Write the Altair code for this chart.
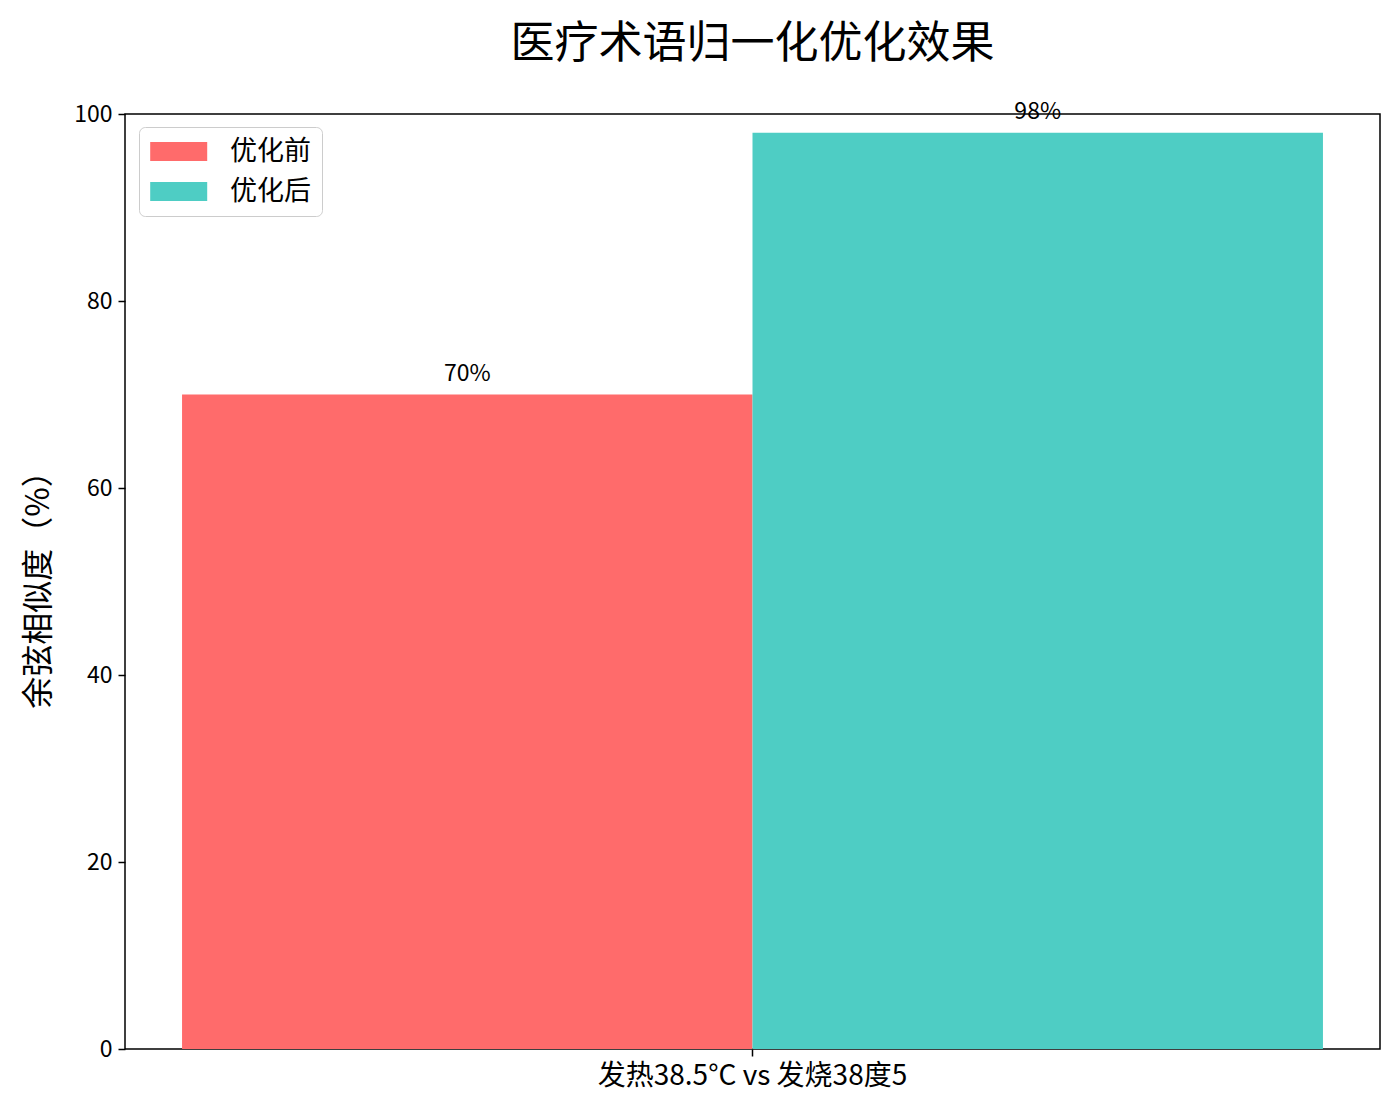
import altair as alt
import pandas as pd

pair = "发热38.5°C vs 发烧38度5"
groups = ["优化前", "优化后"]
similarity = [70, 98]
colors = ["#FF6B6B", "#4ECDC4"]
y_ticks = [0, 20, 40, 60, 80, 100]

df = pd.DataFrame({"pair": [pair] * len(groups), "group": groups, "value": similarity})
df["label"] = [f"{v}%" for v in similarity]

FONT = "Noto Sans CJK SC"

x = alt.X(
    "pair:N",
    title=None,
    scale=alt.Scale(paddingInner=0, paddingOuter=0.05),
    axis=alt.Axis(
        labelAngle=0, labelFontSize=28, labelFont=FONT, labelColor="black",
        labelLimit=0,
        tickSize=7, tickColor="black", tickWidth=1.5,
        domain=False, labelPadding=6,
    ),
)
xoff = alt.XOffset("group:N", sort=groups, scale=alt.Scale(paddingInner=0, paddingOuter=0))
y = alt.Y(
    "value:Q",
    scale=alt.Scale(domain=[0, 100], nice=False),
    axis=alt.Axis(
        values=y_ticks, title="余弦相似度（%）", grid=False,
        labelFontSize=23, labelFont=FONT, labelColor="black",
        tickSize=7, tickColor="black", tickWidth=1.5, domain=False,
        titleFontSize=32, titleFont=FONT, titleFontWeight="normal",
        titleColor="black", titlePadding=18, labelPadding=6,
    ),
)

color = alt.Color(
    "group:N",
    sort=groups,
    scale=alt.Scale(domain=groups, range=colors),
    legend=alt.Legend(
        title=None, orient="none", legendX=14, legendY=13,
        symbolType="M-1.4,-1L4.6,-1L4.6,1L-1.4,1Z", symbolSize=361,
        symbolStrokeWidth=0, symbolOpacity=1,
        labelFontSize=27, labelFont=FONT, labelColor="black", labelOffset=53,
        rowPadding=12, padding=11,
        strokeColor="#cccccc", fillColor="white", cornerRadius=6,
    ),
)

bars = alt.Chart(df).mark_bar(opacity=1).encode(x=x, xOffset=xoff, y=y, color=color)
labels = alt.Chart(df).mark_text(
    baseline="bottom", dy=-9, fontSize=23, font=FONT, color="black"
).encode(x=x, xOffset=xoff, y=y, text="label:N")

chart = (
    alt.layer(bars, labels)
    .properties(
        width=1255,
        height=935,
        background="white",
        autosize=alt.AutoSizeParams(type="none"),
        padding={"left": 117, "top": 106, "right": 12, "bottom": 58},
        title=alt.TitleParams(
            "医疗术语归一化优化效果", fontSize=44, font=FONT, fontWeight="normal",
            color="black", anchor="middle", offset=34,
        ),
    )
    .configure_view(stroke="black", strokeWidth=1.5)
)

chart.save("out.html", embed_options={"renderer": "svg", "actions": False})
